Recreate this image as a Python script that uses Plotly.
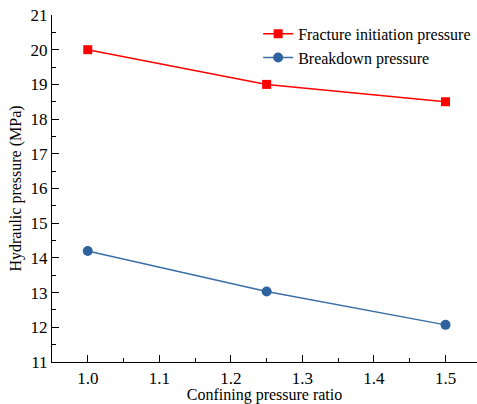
import plotly.graph_objects as go

ratio = [1.0, 1.25, 1.5]
fracture_initiation = [20.0, 19.0, 18.5]
breakdown = [14.2, 13.03, 12.07]

font = "Liberation Serif, Times New Roman, serif"

fig = go.Figure()
fig.add_trace(go.Scatter(x=ratio, y=fracture_initiation, mode="lines+markers",
                         name="Fracture initiation pressure",
                         line=dict(color="#ff0000", width=1.5),
                         marker=dict(symbol="square", size=9, color="#ff0000")))
fig.add_trace(go.Scatter(x=ratio, y=breakdown, mode="lines+markers",
                         name="Breakdown pressure",
                         line=dict(color="#3a6ea5", width=1.5),
                         marker=dict(symbol="circle", size=10, color="#2f63a0")))

axis_common = dict(showline=True, linecolor="black", linewidth=1.2, ticks="inside",
                   ticklen=7, tickwidth=1.2, tickcolor="black", showgrid=False, zeroline=False,
                   tickfont=dict(family=font, size=17, color="black"))

fig.update_layout(
    width=477, height=404,
    margin=dict(l=52, r=0, t=15, b=42),
    paper_bgcolor="white", plot_bgcolor="white",
    font=dict(family=font, color="black"),
    xaxis=dict(range=[0.95, 1.544], tickvals=[1.0, 1.1, 1.2, 1.3, 1.4, 1.5],
               ticktext=["1.0", "1.1", "1.2", "1.3", "1.4", "1.5"],
               minor=dict(ticks="inside", ticklen=4, tickwidth=1.2, tickcolor="black", dtick=0.05, tick0=0.95),
               title=dict(text="Confining pressure ratio", font=dict(family=font, size=16), standoff=0),
               automargin=False,
               **axis_common),
    yaxis=dict(range=[11, 21], dtick=1,
               minor=dict(ticks="inside", ticklen=4, tickwidth=1.2, tickcolor="black", dtick=0.5),
               title=dict(text="Hydraulic pressure (MPa)", font=dict(family=font, size=16), standoff=4),
               automargin=False,
               **axis_common),
    legend=dict(x=0.485, y=0.995, xanchor="left", yanchor="top",
                font=dict(family=font, size=16, color="black"),
                bgcolor="rgba(0,0,0,0)", tracegroupgap=0),
    showlegend=True,
)

fig.write_html("out.html", config={"displayModeBar": False},
               post_script="document.body.style.margin='0';")
